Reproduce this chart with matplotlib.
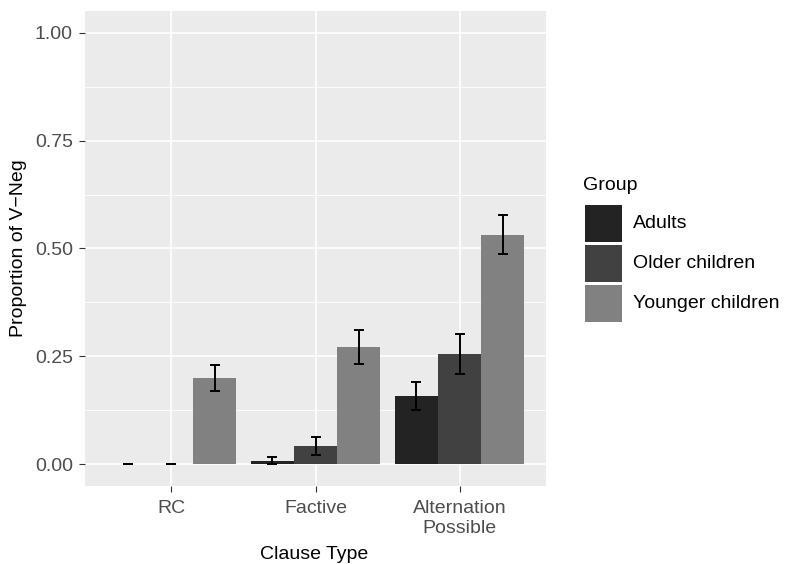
import numpy as np
import matplotlib
matplotlib.use("Agg")
import matplotlib.pyplot as plt
from matplotlib.patches import Rectangle

plt.rcParams['font.family'] = ['Liberation Sans', 'DejaVu Sans']

# proportion of V-Neg responses by clause type and group, with CI bounds
clause_types = ["RC", "Factive", "Alternation\nPossible"]
groups = ["Adults", "Older children", "Younger children"]
group_colors = ["#232323", "#414141", "#818181"]

adults_mean = [0.0, 0.008, 0.159]
older_mean = [0.0, 0.043, 0.256]
younger_mean = [0.200, 0.272, 0.532]

adults_low = [0.0, 0.0, 0.127]
older_low = [0.0, 0.022, 0.209]
younger_low = [0.170, 0.232, 0.488]

adults_high = [0.0, 0.017, 0.192]
older_high = [0.0, 0.064, 0.302]
younger_high = [0.231, 0.312, 0.577]

means = [adults_mean, older_mean, younger_mean]
lows = [adults_low, older_low, younger_low]
highs = [adults_high, older_high, younger_high]

W, H = 786, 564
fig = plt.figure(figsize=(W / 100, H / 100), dpi=100)
ax = fig.add_axes([85 / W, 1 - 486 / H, 461 / W, 475 / H])
ax.set_facecolor("#EBEBEB")

# grid lines (ggplot grey theme)
for y in [0.125, 0.375, 0.625, 0.875]:
    ax.axhline(y, color="white", lw=0.6, zorder=0)
for y in [0, 0.25, 0.5, 0.75, 1.0]:
    ax.axhline(y, color="white", lw=1.2, zorder=0)
x = np.arange(1, len(clause_types) + 1)
for xi in x:
    ax.axvline(xi, color="white", lw=1.2, zorder=0)

bar_w = 0.3
for j in range(len(groups)):
    pos = x + (j - 1) * bar_w
    m = np.array(means[j])
    lo = np.array(lows[j])
    hi = np.array(highs[j])
    ax.bar(pos, m, width=bar_w, color=group_colors[j], zorder=2)
    ax.errorbar(pos, m, yerr=[m - lo, hi - m], fmt="none", ecolor="black",
                elinewidth=1.4, capsize=3.3, capthick=1.4, zorder=3)

ax.set_xlim(0.4, 3.6)
ax.set_ylim(-0.05, 1.05)
ax.set_xticks(x)
ax.set_xticklabels(clause_types, linespacing=1.23)
ax.set_yticks([0, 0.25, 0.5, 0.75, 1.0])
ax.set_yticklabels(["0.00", "0.25", "0.50", "0.75", "1.00"])
ax.tick_params(axis="both", length=4, width=0.8, color="#333333",
               labelcolor="#4D4D4D", labelsize=14)
ax.tick_params(axis="x", pad=6.3)
ax.tick_params(axis="y", pad=4.7)
for s in ax.spines.values():
    s.set_visible(False)

fig.text(314 / W, 1 - 559 / H, "Clause Type", ha="center", va="baseline",
         fontsize=14, color="black")
fig.text(22.7 / W, 1 - 248.5 / H, "Proportion of V\u2212Neg", ha="center",
         va="baseline", rotation=90, rotation_mode="anchor", fontsize=14,
         color="black")

# legend
fig.text(583 / W, 1 - 185 / H, "Group", ha="left", va="center", fontsize=14)
key_tops = [205, 245, 285]
for name, col, top in zip(groups, group_colors, key_tops):
    fig.add_artist(Rectangle((585 / W, 1 - (top + 37) / H), 37 / W, 37 / H,
                             transform=fig.transFigure, facecolor=col,
                             edgecolor="none"))
    fig.text(633 / W, 1 - (top + 18.5) / H, name, ha="left", va="center",
             fontsize=14)

fig.savefig("out.png", dpi=100)
